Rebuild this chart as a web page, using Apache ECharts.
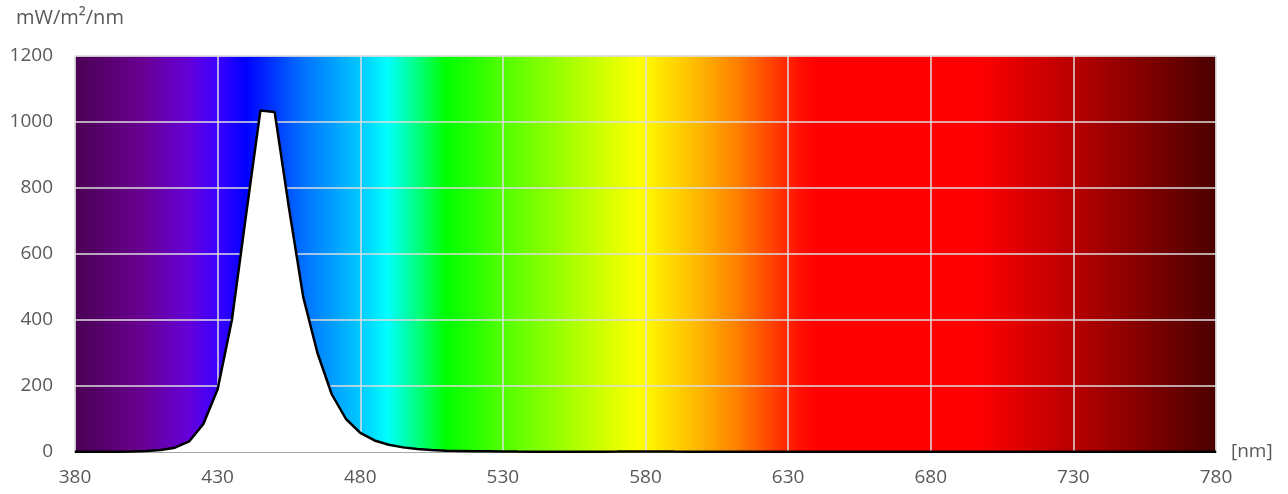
<!DOCTYPE html>
<html>
<head>
<meta charset="utf-8">
<script src="https://cdn.jsdelivr.net/npm/echarts@6/dist/echarts.min.js"></script>
<style>
html,body{margin:0;padding:0;background:#fff;}
#chart{width:1288px;height:494px;}
</style>
</head>
<body>
<div id="chart"></div>
<script>
// Wavelengths (nm) and spectral irradiance (mW/m²/nm)
const wavelengths = [380,385,390,395,400,405,410,415,420,425,430,435,440,445,450,455,460,465,470,475,480,485,490,495,500,505,510,515,520,525,530,535,540,545,550,555,560,565,570,575,580,585,590,595,600,605,610,615,620,625,630,635,640,645,650,655,660,665,670,675,680,685,690,695,700,705,710,715,720,725,730,735,740,745,750,755,760,765,770,775,780];
const irradiance  = [0.5,0.5,0.5,1,1.5,3,6,13,32,85,190,400,720,1035,1030,740,470,300,175,100,58,35,22,14,9,6,4,3,2,2,1.5,1.2,1,1,1,1,1,1,1.2,1.5,1.5,1.5,1.2,1,1,1,1,0.8,0.8,0.8,0.8,0.6,0.6,0.6,0.5,0.5,0.5,0.5,0.5,0.5,0.5,0.5,0.5,0.5,0.5,0.5,0.5,0.5,0.5,0.5,0.5,0.5,0.5,0.5,0.5,0.5,0.5,0.5,0.5,0.5,0.5];
const xTicks = [380,430,480,530,580,630,680,730,780];
const yTicks = [0,200,400,600,800,1000,1200];
const yUnit = 'mW/m²/nm';
const xUnit = '[nm]';

const chart = echarts.init(document.getElementById('chart'), null, {renderer:'canvas'});
const font = '"Open Sans", "Liberation Sans", sans-serif';
const textColor = '#595959';

const spectrum = new echarts.graphic.LinearGradient(0,0,1,0,[
  {offset:0.000, color:'#4a0052'},
  {offset:0.060, color:'#690092'},
  {offset:0.100, color:'#6400d8'},
  {offset:0.125, color:'#3c00ff'},
  {offset:0.150, color:'#0000ff'},
  {offset:0.200, color:'#0070ff'},
  {offset:0.250, color:'#00c8ff'},
  {offset:0.274, color:'#00ffff'},
  {offset:0.300, color:'#00ff80'},
  {offset:0.325, color:'#00ff00'},
  {offset:0.375, color:'#50ff00'},
  {offset:0.440, color:'#b0ff00'},
  {offset:0.495, color:'#ffff00'},
  {offset:0.540, color:'#ffc000'},
  {offset:0.580, color:'#ff8000'},
  {offset:0.635, color:'#ff1000'},
  {offset:0.650, color:'#ff0000'},
  {offset:0.790, color:'#ff0000'},
  {offset:0.875, color:'#b80000'},
  {offset:1.000, color:'#4a0000'}
]);

const data = wavelengths.map((w,i)=>[w, irradiance[i]]);

chart.setOption({
  animation:false,
  backgroundColor:'#ffffff',
  title:{
    text:yUnit, left:11, top:3,
    textStyle:{fontFamily:font, fontSize:20, fontWeight:'normal', color:textColor}
  },
  grid:{
    left:75, right:72, top:56, bottom:42,
    show:true, backgroundColor:spectrum, borderColor:'#d9d9d9', borderWidth:1
  },
  xAxis:{
    type:'value', min:xTicks[0], max:xTicks[xTicks.length-1], interval:50,
    name:xUnit, nameLocation:'end', nameGap:15,
    nameTextStyle:{fontFamily:font, fontSize:19, color:textColor, verticalAlign:'middle', padding:[0,0,8,0]},
    axisLine:{show:true, lineStyle:{color:'#a6a6a6', width:2}},
    axisTick:{show:false},
    axisLabel:{fontFamily:font, fontSize:19, color:textColor, margin:16},
    splitLine:{show:true, lineStyle:{color:'#dedede', width:1.5}}
  },
  yAxis:{
    type:'value', min:yTicks[0], max:yTicks[yTicks.length-1], interval:200,
    axisLine:{show:false}, axisTick:{show:false},
    axisLabel:{fontFamily:font, fontSize:19, color:textColor, margin:22, formatter:(v)=>String(v)},
    splitLine:{show:true, lineStyle:{color:'#dedede', width:1.5}}
  },
  series:[{
    type:'line', data:data, showSymbol:false, smooth:false,
    lineStyle:{color:'#000000', width:2.5},
    areaStyle:{color:'#ffffff', opacity:1},
    z:3
  }]
});
</script>
</body>
</html>
